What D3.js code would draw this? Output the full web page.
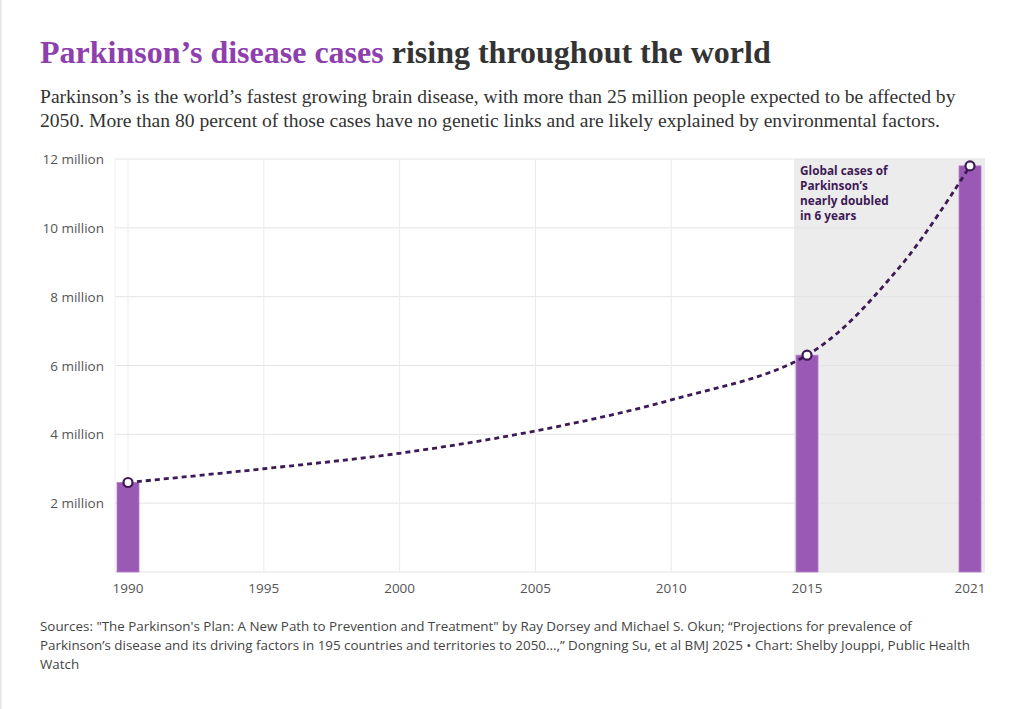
<!DOCTYPE html>
<html><head><meta charset="utf-8">
<script src="https://cdn.jsdelivr.net/npm/d3@7"></script>
<style>
body{margin:0;background:#fff;width:1024px;height:709px;overflow:hidden}
</style></head><body>
<svg id="chart" width="1024" height="709"></svg>
<script>
// Data
const barYears = [1990, 2015, 2021];
const barValues = [2.6, 6.3, 11.8];
const trendYears = [1990, 1995, 2000, 2005, 2010, 2015, 2018.4, 2021];
const trendValues = [2.6, 3.0, 3.45, 4.1, 5.0, 6.3, 8.85, 11.8];
const xTicks = [1990, 1995, 2000, 2005, 2010, 2015, 2021];
const yTicks = [2, 4, 6, 8, 10, 12];

const svg = d3.select('#chart');
svg.append('rect').attr('x', 0).attr('y', 0).attr('width', 1024).attr('height', 709).attr('fill', '#fff');
svg.append('rect').attr('x', 0).attr('y', 0).attr('width', 1.5).attr('height', 709).attr('fill', '#e6e6e6');

const serif = "'Liberation Serif', serif";
const sans = "'Open Sans', sans-serif";

// Title
const title = svg.append('text').attr('x', 40).attr('y', 63)
  .attr('font-family', serif).attr('font-weight', 700).attr('font-size', 32);
title.append('tspan').attr('fill', '#8e3fad').text('Parkinson’s disease cases');
title.append('tspan').attr('fill', '#333').text(' rising throughout the world');

const sub = ['Parkinson’s is the world’s fastest growing brain disease, with more than 25 million people expected to be affected by',
  '2050. More than 80 percent of those cases have no genetic links and are likely explained by environmental factors.'];
svg.selectAll('.sub').data(sub).enter().append('text')
  .attr('x', 40).attr('y', (d, i) => 103 + i * 24)
  .attr('font-family', serif).attr('font-size', 19.6).attr('fill', '#333').text(d => d);

// Scales
const x = d3.scaleLinear().domain([1990, 2021]).range([128, 970]);
const y = d3.scaleLinear().domain([0, 12]).range([572, 159]);

// Shaded region
svg.append('rect').attr('x', 794).attr('y', y(12)).attr('width', 985 - 794).attr('height', y(0) - y(12)).attr('fill', '#ececec');

// Grid
svg.append('g').selectAll('line').data(yTicks).enter().append('line')
  .attr('x1', 115).attr('x2', 985).attr('y1', d => y(d)).attr('y2', d => y(d))
  .attr('stroke', '#e4e4e4').attr('stroke-width', 1);
svg.append('line').attr('x1', 115).attr('x2', 985).attr('y1', y(0)).attr('y2', y(0)).attr('stroke', '#e4e4e4');
svg.append('g').selectAll('line').data(xTicks).enter().append('line')
  .attr('x1', d => x(d)).attr('x2', d => x(d)).attr('y1', y(12)).attr('y2', y(0))
  .attr('stroke', '#ebebeb').attr('stroke-width', 1);
svg.append('line').attr('x1', 115).attr('x2', 115).attr('y1', y(12)).attr('y2', y(0)).attr('stroke', '#f0f0f0');

// Y labels
svg.append('g').selectAll('text').data(yTicks).enter().append('text')
  .attr('x', 104).attr('y', d => y(d) + 5).attr('text-anchor', 'end')
  .attr('font-family', sans).attr('font-size', 13.5).attr('fill', '#555')
  .text(d => d + ' million');
// X labels
svg.append('g').selectAll('text').data(xTicks).enter().append('text')
  .attr('x', d => x(d)).attr('y', 593).attr('text-anchor', 'middle')
  .attr('font-family', sans).attr('font-size', 13.5).attr('fill', '#555').text(d => d);

// Bars
const bw = 22;
svg.append('g').selectAll('rect').data(barYears).enter().append('rect')
  .attr('x', d => x(d) - bw / 2).attr('width', bw)
  .attr('y', (d, i) => y(barValues[i])).attr('height', (d, i) => y(0) - y(barValues[i]))
  .attr('fill', '#9b59b6').attr('stroke', '#b27fc8').attr('stroke-width', 0.8);

// Trend line
const line = d3.line().x(d => x(d[0])).y(d => y(d[1])).curve(d3.curveCatmullRom.alpha(0.5));
svg.append('path').datum(trendYears.map((t, i) => [t, trendValues[i]]))
  .attr('d', line).attr('fill', 'none').attr('stroke', '#3d1a55')
  .attr('stroke-width', 2.8).attr('stroke-dasharray', '5,4');

svg.append('g').selectAll('circle').data(barYears).enter().append('circle')
  .attr('cx', d => x(d)).attr('cy', (d, i) => y(barValues[i])).attr('r', 4.5)
  .attr('fill', '#fff').attr('stroke', '#3d1a55').attr('stroke-width', 2.2);

// Annotation
const ann = ['Global cases of', 'Parkinson’s', 'nearly doubled', 'in 6 years'];
svg.append('g').selectAll('text').data(ann).enter().append('text')
  .attr('x', 800).attr('y', (d, i) => 175 + i * 15)
  .attr('font-family', sans).attr('font-weight', 700).attr('font-size', 11.8)
  .attr('fill', '#3d1a55').text(d => d);

// Footer
const foot = ['Sources: "The Parkinson\'s Plan: A New Path to Prevention and Treatment" by Ray Dorsey and Michael S. Okun; “Projections for prevalence of',
  'Parkinson’s disease and its driving factors in 195 countries and territories to 2050...,” Dongning Su, et al BMJ 2025 • Chart: Shelby Jouppi, Public Health',
  'Watch'];
svg.selectAll('.foot').data(foot).enter().append('text')
  .attr('x', 40).attr('y', (d, i) => 631 + i * 19)
  .attr('font-family', sans).attr('font-size', 13.4).attr('fill', '#444').text(d => d);
</script>
</body></html>
